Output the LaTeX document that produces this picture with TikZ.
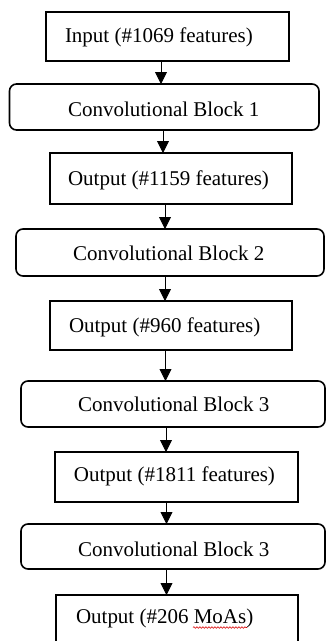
\documentclass[tikz,border=0pt]{standalone}
\usepackage{fontspec}
\setmainfont{Liberation Serif}
\usetikzlibrary{arrows.meta,decorations.pathmorphing}
\tikzset{
  sqbox/.style={draw=black, line width=1.6pt, inner sep=0pt, outer sep=0pt},
  rbox/.style={draw=black, line width=1.6pt, rounded corners=7pt, inner sep=0pt, outer sep=0pt},
  lbl/.style={inner sep=0pt, outer sep=0pt, anchor=base west, font=\fontsize{21}{25}\selectfont},
  arr/.style={draw=black, line width=0.9pt, -{Triangle[width=12pt,length=12pt]}},
  squiggle/.style={draw=red!85!black, line width=0.6pt, decorate, decoration={snake, amplitude=0.8pt, segment length=3pt}}
}
\begin{document}
\begin{tikzpicture}[x=1pt,y=-1pt]
\useasboundingbox (0,0) rectangle (326,641);
\fill[white] (0,0) rectangle (326,641);
% boxes
\node[sqbox, minimum width=243pt, minimum height=49pt] (b1) at (167.5,36.5) {};
\node[rbox,  minimum width=309.5pt, minimum height=46pt] (r1) at (164.25,107) {};
\node[sqbox, minimum width=242pt, minimum height=51pt] (b2) at (171,178.5) {};
\node[rbox,  minimum width=308pt, minimum height=47pt] (r2) at (170,252.5) {};
\node[sqbox, minimum width=242pt, minimum height=49pt] (b3) at (171,325.5) {};
\node[rbox,  minimum width=304pt, minimum height=46pt] (r3) at (173,404) {};
\node[sqbox, minimum width=243pt, minimum height=50pt] (b4) at (176.5,477) {};
\node[rbox,  minimum width=304pt, minimum height=45pt] (r4) at (173,546.5) {};
\node[sqbox, minimum width=242pt, minimum height=60pt] (b5) at (177,625) {};
% texts
\node[lbl] (t1) at (65,42) {Input (\#1069 features)};
\node[lbl] (t2) at (68,116) {Convolutional Block 1};
\node[lbl] (t3) at (68,185) {Output (\#1159 features)};
\node[lbl] (t4) at (73,260.7) {Convolutional Block 2};
\node[lbl] (t5) at (69,332) {Output (\#960 features)};
\node[lbl] (t6) at (78,411.7) {Convolutional Block 3};
\node[lbl] (t7) at (74,481) {Output (\#1811 features)};
\node[lbl] (t8) at (78,556) {Convolutional Block 3};
\node[lbl] (t9) at (76,623.5) {Output (\#206 MoAs)};
% spell-check underline
\coordinate (s1) at (193,627.5);
\coordinate (s2) at (247,627.5);
\draw[squiggle] (s1) -- (s2);
% arrows
\draw[arr] ([xshift=-6.5pt]b1.south) -- ([xshift=-6.5pt]b1.south |- r1.north);
\draw[arr] ([xshift=-1.25pt]r1.south) -- ([xshift=-1.25pt]r1.south |- b2.north);
\draw[arr] ([xshift=-6pt]b2.south) -- ([xshift=-6pt]b2.south |- r2.north);
\draw[arr] ([xshift=-5pt]r2.south) -- ([xshift=-5pt]r2.south |- b3.north);
\draw[arr] ([xshift=-5.5pt]b3.south) -- ([xshift=-5.5pt]b3.south |- r3.north);
\draw[arr] ([xshift=-7pt]r3.south) -- ([xshift=-7pt]r3.south |- b4.north);
\draw[arr] ([xshift=-10pt]b4.south) -- ([xshift=-10pt]b4.south |- r4.north);
\draw[arr] ([xshift=-6.5pt]r4.south) -- ([xshift=-6.5pt]r4.south |- b5.north);
\end{tikzpicture}
\end{document}
